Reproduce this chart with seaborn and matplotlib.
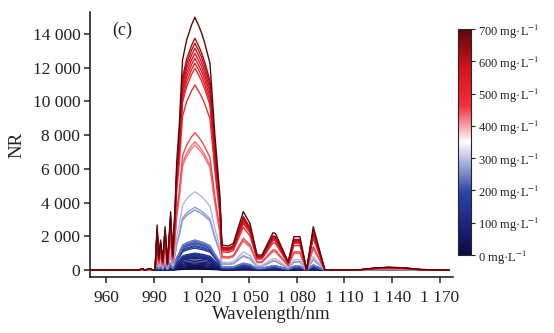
import numpy as np
import pandas as pd
import matplotlib
matplotlib.use("Agg")
import matplotlib.pyplot as plt
from matplotlib.colors import LinearSegmentedColormap, Normalize
from matplotlib.cm import ScalarMappable
from matplotlib.ticker import FuncFormatter
import seaborn as sns

# Spectrum of the highest-concentration sample (wavelength in nm, NR counts)
wavelength = [950, 980, 983, 984, 988, 989, 990.7, 992, 993, 994.2, 995.5, 997,
              998.5, 1000.5, 1001.8, 1003.2, 1004.3, 1006, 1008, 1010.6, 1013.7,
              1015.8, 1018, 1020, 1022, 1025.3, 1028.4, 1031.6, 1032.8, 1036.8,
              1040, 1046.3, 1050.5, 1055, 1058, 1065, 1066.5, 1074.6, 1078.2,
              1082, 1086.2, 1090.4, 1097.7, 1120, 1130, 1138, 1148, 1158, 1176]
nr_top = [0, 0, 80, 0, 90, 0, 0, 2670, 700, 1780, 500, 2570,
          400, 3460, 900, 3560, 6330, 8700, 12450, 13640, 14530,
          14990, 14530, 14060, 13450, 12260, 8000, 4350, 1480, 1420,
          1580, 3460, 2770, 890, 890, 2210, 2180, 490, 1980,
          1980, 0, 2570, 0, 20, 130, 170, 130, 30, 0]

# Sample concentrations (mg/L) and the main-band peak NR of each spectrum
concentration = [0, 10, 20, 30, 40, 50, 60, 70, 80, 90, 100, 110, 120, 130, 140, 150,
                 170, 180, 190, 200, 210, 220, 230, 240,
                 260, 270, 290, 420, 430, 450, 480,
                 500, 520, 540, 560, 580, 600, 620, 700]
peak_nr = [50, 100, 150, 220, 280, 350, 420, 500, 600, 700, 750, 800, 850, 900, 950, 1000,
           1300, 1380, 1450, 1550, 1600, 1650, 1700, 1780,
           3560, 3720, 4640, 7410, 7610, 8150, 10970,
           11960, 12260, 12560, 12850, 13150, 13450, 13740, 14990]

wl = np.array(wavelength)
top = np.array(nr_top, dtype=float)
rows = []
for c, p in zip(concentration, peak_nr):
    for w, v in zip(wl, top * p / max(nr_top)):
        rows.append((c, w, v))
df = pd.DataFrame(rows, columns=["conc", "wavelength", "nr"])

sns.set_theme(style="ticks")
plt.rcParams["font.family"] = ["Liberation Serif", "DejaVu Serif"]
plt.rcParams["mathtext.fontset"] = "stix"

cmap = LinearSegmentedColormap.from_list(
    "conc",
    [(0.0, "#0c0b45"), (0.14, "#1c2580"), (0.28, "#2d46a6"), (0.5, "#ffffff"),
     (0.66, "#f0303a"), (0.82, "#d8121c"), (1.0, "#5a080c")])
norm = Normalize(0, 700)

fig = plt.figure(figsize=(5.54, 3.33), dpi=100)
ax = fig.add_axes([0.1625, 0.168, 0.655, 0.796])

for c in concentration:
    sub = df[df["conc"] == c]
    sns.lineplot(data=sub, x="wavelength", y="nr", color=cmap(norm(c)),
                 lw=1.0, ax=ax, legend=False, estimator=None, sort=False)

ax.set_xlim(949.7, 1178.4)
ax.set_ylim(-415, 15300)
ax.set_xticks(range(960, 1171, 30))
ax.set_yticks(range(0, 14001, 2000))
fmt = FuncFormatter(lambda v, _: f"{int(v):,}".replace(",", " "))
ax.xaxis.set_major_formatter(fmt)
ax.yaxis.set_major_formatter(fmt)
ax.tick_params(direction="out", length=4, width=1.1, labelsize=12.5, color="#222222",
               labelcolor="#222222", pad=3)
ax.tick_params(axis="x", labelsize=12.5, pad=5)
for s in ["top", "right"]:
    ax.spines[s].set_visible(False)
for s in ["left", "bottom"]:
    ax.spines[s].set_linewidth(1.2)
    ax.spines[s].set_color("#222222")
ax.set_xlabel("Wavelength/nm", fontsize=13.5, labelpad=0, color="#222222")
ax.set_ylabel("NR", fontsize=13.5, labelpad=5, color="#222222")
ax.text(0.06, 0.93, "(c)", transform=ax.transAxes, fontsize=13,
        va="center", ha="left", color="#222222")

cax = fig.add_axes([0.8267, 0.234, 0.0235, 0.679])
cb = fig.colorbar(ScalarMappable(norm=norm, cmap=cmap), cax=cax)
cb.set_ticks(range(0, 701, 100))
cb.set_ticklabels([f"{v} mg·L$^{{-1}}$" for v in range(0, 701, 100)])
cb.ax.tick_params(labelsize=9, length=3, width=0.8, pad=2, colors="#222222")
cb.outline.set_linewidth(0.8)

fig.savefig("out.png", dpi=100)
